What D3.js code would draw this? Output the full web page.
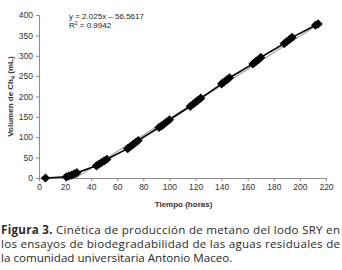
<!DOCTYPE html>
<html>
<head>
<meta charset="utf-8">
<script src="https://cdn.jsdelivr.net/npm/d3@7"></script>
<style>
  body { margin: 0; background: #fff; }
  svg { display: block; }
</style>
</head>
<body>
<script>
// Tiempo (horas) and volumen de CH4 (mL)
const tiempo = [5, 21, 23, 25, 27, 29, 44, 46, 48, 50, 52, 68, 70, 72, 74, 76,
  92, 94, 96, 98, 100, 116, 118, 120, 122, 124, 140, 142, 144, 146,
  164, 166, 168, 170, 188, 190, 192, 194, 212, 214];
const volumen = [0, 3, 5, 7, 10, 13, 30, 34, 38, 42, 46, 72, 77, 82, 87, 92,
  124, 128, 133, 138, 143, 176, 181, 186, 191, 196, 231, 236, 241, 246,
  280, 285, 290, 296, 330, 335, 340, 345, 375, 378];
const xTicks = [0, 20, 40, 60, 80, 100, 120, 140, 160, 180, 200, 220];
const yTicks = [0, 50, 100, 150, 200, 250, 300, 350, 400];
const pendiente = 2.025, intercepto = -56.5617;
const captionLines = [
  ["Figura 3.", " Cinética de producción de metano del lodo SRY en"],
  ["", "los ensayos de biodegradabilidad de las aguas residuales de"],
  ["", "la comunidad universitaria Antonio Maceo."]
];

const width = 342, height = 270;
const margin = { top: 15, right: 16, bottom: 92, left: 39 };

const svg = d3.select("body").append("svg")
  .attr("width", width)
  .attr("height", height);

const x = d3.scaleLinear().domain([0, 220]).range([margin.left, width - margin.right]);
const y = d3.scaleLinear().domain([0, 400]).range([height - margin.bottom, margin.top]);

const axisFont = "'Liberation Sans Narrow', 'Arial Narrow', 'Liberation Sans', sans-serif";

// axes
const xAxis = svg.append("g")
  .attr("transform", `translate(0,${y(0)})`)
  .call(d3.axisBottom(x).tickValues(xTicks).tickSize(3).tickPadding(3));
const yAxis = svg.append("g")
  .attr("transform", `translate(${x(0)},0)`)
  .call(d3.axisLeft(y).tickValues(yTicks).tickSize(3).tickPadding(3));

[xAxis, yAxis].forEach(g => {
  g.select(".domain").attr("stroke", "#8c8c8c");
  g.selectAll(".tick line").attr("stroke", "#8c8c8c");
  g.selectAll("text")
    .attr("fill", "#333")
    .style("font-family", axisFont)
    .style("font-size", "8.5px");
});

// trendline
const xStart = -intercepto / pendiente;
svg.append("line")
  .attr("x1", x(xStart)).attr("y1", y(0))
  .attr("x2", x(214)).attr("y2", y(pendiente * 214 + intercepto))
  .attr("stroke", "#a0a0a0")
  .attr("stroke-width", 1.2);

// data line
const pts = tiempo.map((t, i) => [t, volumen[i]]);
svg.append("path")
  .datum(pts)
  .attr("fill", "none")
  .attr("stroke", "#000")
  .attr("stroke-width", 1.6)
  .attr("d", d3.line().x(d => x(d[0])).y(d => y(d[1])));

// diamond markers
svg.append("g").selectAll("path")
  .data(pts)
  .join("path")
  .attr("transform", d => `translate(${x(d[0])},${y(d[1])})`)
  .attr("d", "M0,-4.6L4.6,0L0,4.6L-4.6,0Z")
  .attr("fill", "#000");

// equation
const eq = svg.append("text")
  .attr("x", 69).attr("y", 19)
  .style("font-family", axisFont)
  .style("font-size", "8px")
  .attr("fill", "#222");
eq.text("y = 2.025x \u2013 56.5617");
const r2 = svg.append("text")
  .attr("x", 69).attr("y", 28)
  .style("font-family", axisFont)
  .style("font-size", "8px")
  .attr("fill", "#222");
r2.append("tspan").text("R");
r2.append("tspan").attr("dy", -3).style("font-size", "5px").text("2");
r2.append("tspan").attr("dy", 3).text(" = 0.9942");

// axis titles
svg.append("text")
  .attr("x", (x(0) + x(220)) / 2 + 1)
  .attr("y", 207)
  .attr("text-anchor", "middle")
  .style("font-family", axisFont)
  .style("font-size", "8px")
  .style("font-weight", "bold")
  .attr("fill", "#333")
  .text("Tiempo (horas)");

const yt = svg.append("text")
  .attr("transform", `translate(13,${(y(0) + y(400)) / 2}) rotate(-90)`)
  .attr("text-anchor", "middle")
  .style("font-family", axisFont)
  .style("font-size", "8px")
  .style("font-weight", "bold")
  .attr("fill", "#333");
yt.append("tspan").text("Volumen de Ch");
yt.append("tspan").attr("dy", 2).style("font-size", "5.5px").text("4");
yt.append("tspan").attr("dy", -2).text(" (mL)");

// caption
const capFont = "'Open Sans', 'Noto Sans', sans-serif";
captionLines.forEach((ln, i) => {
  const t = svg.append("text")
    .attr("x", 1)
    .attr("y", 234 + i * 14)
    .style("font-family", capFont)
    .style("font-size", "11.6px")
    .attr("fill", "#2a2a2a");
  if (i < 2) t.attr("textLength", 339).attr("lengthAdjust", "spacing");
  if (ln[0]) t.append("tspan").style("font-weight", "bold").text(ln[0]);
  t.append("tspan").text(ln[1]);
});
</script>
</body>
</html>
